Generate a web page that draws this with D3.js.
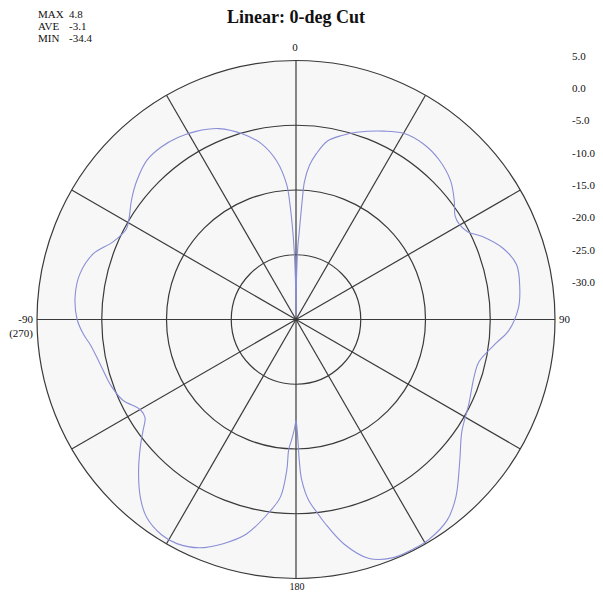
<!DOCTYPE html>
<html>
<head>
<meta charset="utf-8">
<script src="https://cdn.jsdelivr.net/npm/d3@7"></script>
<style>
  html, body { margin: 0; padding: 0; background: #ffffff; }
  svg { display: block; }
  text { font-family: "Liberation Serif", "Times New Roman", serif; fill: #111; }
</style>
</head>
<body>
<svg id="chart" width="603" height="596"></svg>
<script>
// ---- data ----
const title = "Linear: 0-deg Cut";
const statLabels = ["MAX", "AVE", "MIN"];
const statValues = ["4.8", "-3.1", "-34.4"];
const scaleTicks = [5, 0, -5, -10, -15, -20, -25, -30];
const ringValues = [-25, -15, -5, 5];
const spokeAngles = [0, 30, 60, 90, 120, 150, 180, 210, 240, 270, 300, 330];
const angleLabels = ["0", "90", "180", "-90", "(270)"];
// pattern: angle (deg, clockwise from top) and gain (dB)
const angles = [0, 0.5, 1, 1.5, 2, 3, 3.5, 5, 7, 10, 14, 18, 25, 30, 36, 42, 48, 53, 57, 60, 63, 66, 71, 76, 82, 87,
  93, 97, 103, 108, 116, 124, 131, 138, 143, 149, 153, 158, 163, 168, 172, 174, 176, 178, 178.7, 179, 179.5, 180,
  180.7, 182, 183.2, 183.5, 185, 188, 193, 198, 203, 208, 212, 217, 221, 226, 231, 234, 237, 240, 245, 250, 257,
  263, 266, 270, 276, 282, 288, 293, 298, 301, 306, 311, 317, 322, 327, 332, 338, 344, 349, 353, 356, 357, 357.7,
  358.5, 359.2];
const gains = [-34.4, -30.4, -26.5, -23.4, -21.9, -16.5, -13.7, -11.1, -9.2, -7.0, -5.7, -4.6, -2.9, -1.8, -1.5, -1.9, -2.9, -4.4, -5.7, -5.8, -5.2, -3.5, -1.2, 0.1, -0.1, -0.6,
  -2.1, -4.0, -6.0, -6.1, -5.3, -4.1, -1.5, 1.9, 3.8, 4.7, 4.8, 4.7, 3.6, 0.4, -3.3, -5.2, -7.0, -10.3, -13.4, -15.7, -18.3, -19.4,
  -18.3, -16.5, -14.9, -11.7, -7.5, -4.9, -1.0, 1.4, 3.3, 4.2, 4.2, 3.3, 1.6, -1.2, -4.1, -5.8, -7.2, -7.2, -5.5, -4.7, -4.0,
  -3.0, -2.1, -1.2, -0.7, -0.9, -2.1, -4.3, -5.3, -4.9, -3.6, -2.4, -1.3, -1.2, -1.5, -2.1, -3.2, -5.2, -7.4, -10.3, -14.0, -17.2, -20.3,
  -24.2, -28.8];

// ---- layout ----
const svg = d3.select("#chart");
const cx = 296, cy = 319.5, R = 259;
const r = d3.scaleLinear().domain([-35, 5]).range([0, R]);
const toRad = d => d * Math.PI / 180;

svg.append("text").attr("x", 296).attr("y", 23).attr("text-anchor", "middle")
  .style("font-size", "18px").style("font-weight", "bold").text(title);

const stats = svg.append("g");
statLabels.forEach((s, i) => {
  stats.append("text").attr("x", 38).attr("y", 18 + i * 12).style("font-size", "11px").text(s);
  stats.append("text").attr("x", 69).attr("y", 18 + i * 12).style("font-size", "11px").text(statValues[i]);
});

const g = svg.append("g").attr("transform", `translate(${cx},${cy})`);
g.append("circle").attr("r", R).attr("fill", "#f7f7f7").attr("stroke", "none");

// rings
g.selectAll("circle.ring").data(ringValues).join("circle").attr("class", "ring")
  .attr("r", d => r(d)).attr("fill", "none").attr("stroke", "#3a3a3a").attr("stroke-width", 1.2);

// spokes
g.selectAll("line.spoke").data(spokeAngles).join("line").attr("class", "spoke")
  .attr("x1", 0).attr("y1", 0)
  .attr("x2", d => R * Math.sin(toRad(d)))
  .attr("y2", d => -R * Math.cos(toRad(d)))
  .attr("stroke", "#3a3a3a").attr("stroke-width", 1.2);

// pattern
const pts = angles.map((a, i) => [toRad(a), r(gains[i])]);
const line = d3.lineRadial().angle(d => d[0]).radius(d => d[1]).curve(d3.curveCatmullRomClosed.alpha(0.5));
g.append("path").attr("d", line(pts)).attr("fill", "none").attr("stroke", "#8a8ed6").attr("stroke-width", 1.1);

// angle labels
svg.append("text").attr("x", 295).attr("y", 51).attr("text-anchor", "middle").style("font-size", "11px").text(angleLabels[0]);
svg.append("text").attr("x", 559).attr("y", 323).attr("text-anchor", "start").style("font-size", "11px").text(angleLabels[1]);
svg.append("text").attr("x", 297).attr("y", 590).attr("text-anchor", "middle").style("font-size", "10px").text(angleLabels[2]);
svg.append("text").attr("x", 33).attr("y", 323).attr("text-anchor", "end").style("font-size", "11px").text(angleLabels[3]);
svg.append("text").attr("x", 33).attr("y", 337).attr("text-anchor", "end").style("font-size", "11px").text(angleLabels[4]);

// scale labels on the right
svg.selectAll("text.tick").data(scaleTicks).join("text").attr("class", "tick")
  .attr("x", 572).attr("y", d => cy - r(d) - 1)
  .attr("text-anchor", "start").style("font-size", "11px")
  .text(d => d.toFixed(1));
</script>
</body>
</html>
